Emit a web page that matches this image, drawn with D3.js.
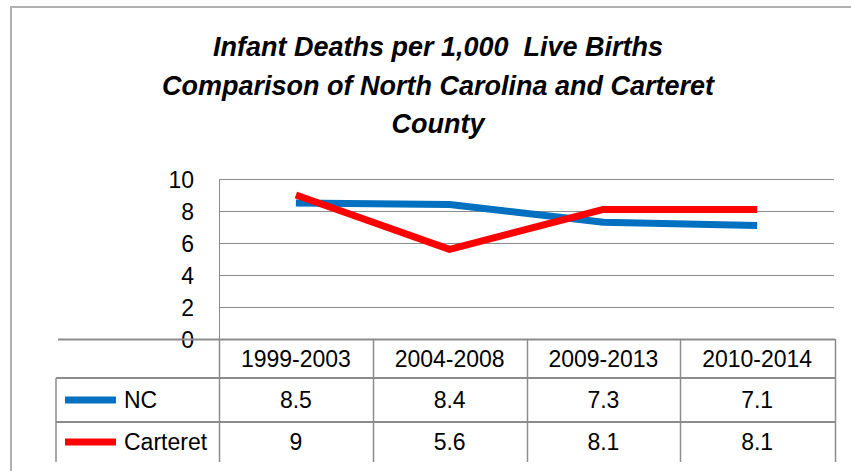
<!DOCTYPE html>
<html>
<head>
<meta charset="utf-8">
<script src="https://cdn.jsdelivr.net/npm/d3@7"></script>
<style>
  body { margin: 0; background: #fff; }
  text { font-family: 'Liberation Sans', Arial, sans-serif; fill: #000; }
</style>
</head>
<body>
<div id="chart"></div>
<script>
// data
const categories = ['1999-2003', '2004-2008', '2009-2013', '2010-2014'];
const ncValues = [8.5, 8.4, 7.3, 7.1];
const carteretValues = [9, 5.6, 8.1, 8.1];
const yTicks = [0, 2, 4, 6, 8, 10];
const titleLines = ['Infant Deaths per 1,000  Live Births', 'Comparison of North Carolina and Carteret', 'County'];

const series = [
    { name: 'NC', values: ncValues, color: '#0070C0' },
    { name: 'Carteret', values: carteretValues, color: '#FF0000' }
];

// layout
const width = 851;
const height = 471;
const plotLeft = 219;
const plotRight = 834;
const plotTop = 179;
const plotBottom = 339;
const tableLeft = 56;
const rowH = [39, 44, 40];
const gridColor = '#8c8c8c';
const bodyFont = '23px';

const svg = d3.select('#chart').append('svg')
    .attr('width', width)
    .attr('height', height);

// outer border
svg.append('rect')
    .attr('x', 11).attr('y', 7)
    .attr('width', 860).attr('height', 480)
    .attr('fill', 'none')
    .attr('stroke', '#b0b0b0')
    .attr('stroke-width', 2);

// title
svg.append('g')
    .selectAll('text')
    .data(titleLines)
    .enter()
    .append('text')
    .attr('x', 438)
    .attr('y', (d, i) => 56 + i * 38.5)
    .attr('text-anchor', 'middle')
    .style('white-space', 'pre')
    .style('font-size', '27px')
    .style('font-weight', 'bold')
    .style('font-style', 'italic')
    .text((d) => d);

// scales
const xScale = d3.scaleBand()
    .domain(categories)
    .range([plotLeft, plotRight]);
const yScale = d3.scaleLinear()
    .domain([0, 10])
    .range([plotBottom, plotTop]);

// gridlines
svg.append('g')
    .selectAll('line')
    .data(yTicks.filter((d) => d > 0))
    .enter()
    .append('line')
    .attr('x1', plotLeft).attr('x2', plotRight)
    .attr('y1', (d) => Math.round(yScale(d)) + 0.5)
    .attr('y2', (d) => Math.round(yScale(d)) + 0.5)
    .attr('stroke', gridColor)
    .attr('stroke-width', 1);

// y axis
const yAxis = d3.axisLeft(yScale)
    .tickValues(yTicks)
    .tickSize(0)
    .tickPadding(0)
    .tickFormat(d3.format('d'));
const yG = svg.append('g')
    .attr('transform', `translate(${plotLeft - 25},0)`)
    .call(yAxis);
yG.select('.domain').remove();
yG.selectAll('text')
    .style('font-family', "'Liberation Sans', Arial, sans-serif")
    .style('font-size', bodyFont)
    .attr('dy', '0.36em');

// vertical axis line
svg.append('line')
    .attr('x1', plotLeft + 0.5).attr('x2', plotLeft + 0.5)
    .attr('y1', plotTop).attr('y2', plotBottom)
    .attr('stroke', gridColor);

// lines
const line = d3.line()
    .x((d, i) => xScale(categories[i]) + xScale.bandwidth() / 2)
    .y((d) => yScale(d));

svg.append('g')
    .selectAll('path')
    .data(series)
    .enter()
    .append('path')
    .attr('d', (d) => line(d.values))
    .attr('fill', 'none')
    .attr('stroke', (d) => d.color)
    .attr('stroke-width', 7)
    .attr('stroke-linejoin', 'round')
    .attr('stroke-linecap', 'butt');

// data table
const table = svg.append('g').attr('class', 'table');
const row1 = plotBottom + rowH[0];
const row2 = row1 + rowH[1];
const tableBottom = row2 + rowH[2];

// horizontal axis line and table rows
table.append('line')
    .attr('x1', 58).attr('x2', plotRight + 1)
    .attr('y1', plotBottom + 0.5).attr('y2', plotBottom + 0.5)
    .attr('stroke', gridColor).attr('stroke-width', 2);
[row1, row2].forEach((y) => {
    table.append('line')
        .attr('x1', tableLeft).attr('x2', plotRight + 1)
        .attr('y1', y).attr('y2', y)
        .attr('stroke', gridColor).attr('stroke-width', 2);
});
// vertical lines
table.append('line')
    .attr('x1', tableLeft).attr('x2', tableLeft)
    .attr('y1', row1).attr('y2', tableBottom)
    .attr('stroke', gridColor).attr('stroke-width', 1.5);
const colEdges = categories.map((c) => xScale(c)).concat([plotRight + 0.5]);
table.selectAll('.col-line')
    .data(colEdges)
    .enter()
    .append('line')
    .attr('class', 'col-line')
    .attr('x1', (d) => Math.round(d) + 0.5).attr('x2', (d) => Math.round(d) + 0.5)
    .attr('y1', plotBottom).attr('y2', tableBottom)
    .attr('stroke', gridColor).attr('stroke-width', 1.5);

// header
table.selectAll('.cat-label')
    .data(categories)
    .enter()
    .append('text')
    .attr('class', 'cat-label')
    .attr('x', (d) => xScale(d) + xScale.bandwidth() / 2)
    .attr('y', plotBottom + rowH[0] / 2)
    .attr('dy', '0.36em')
    .attr('text-anchor', 'middle')
    .style('font-size', bodyFont)
    .text((d) => d);

// series rows
const rowCenters = [row1 + rowH[1] / 2, row2 + rowH[2] / 2];
series.forEach((s, si) => {
    const cy = rowCenters[si];
    table.append('rect')
        .attr('x', 65).attr('y', cy - 3.5)
        .attr('width', 51).attr('height', 7)
        .attr('fill', s.color);
    table.append('text')
        .attr('x', 124).attr('y', cy)
        .attr('dy', '0.36em')
        .style('font-size', bodyFont)
        .text(s.name);
    table.selectAll(`.val-${si}`)
        .data(s.values)
        .enter()
        .append('text')
        .attr('class', `val-${si}`)
        .attr('x', (d, i) => xScale(categories[i]) + xScale.bandwidth() / 2)
        .attr('y', cy)
        .attr('dy', '0.36em')
        .attr('text-anchor', 'middle')
        .style('font-size', bodyFont)
        .text((d) => d);
});
</script>
</body>
</html>
